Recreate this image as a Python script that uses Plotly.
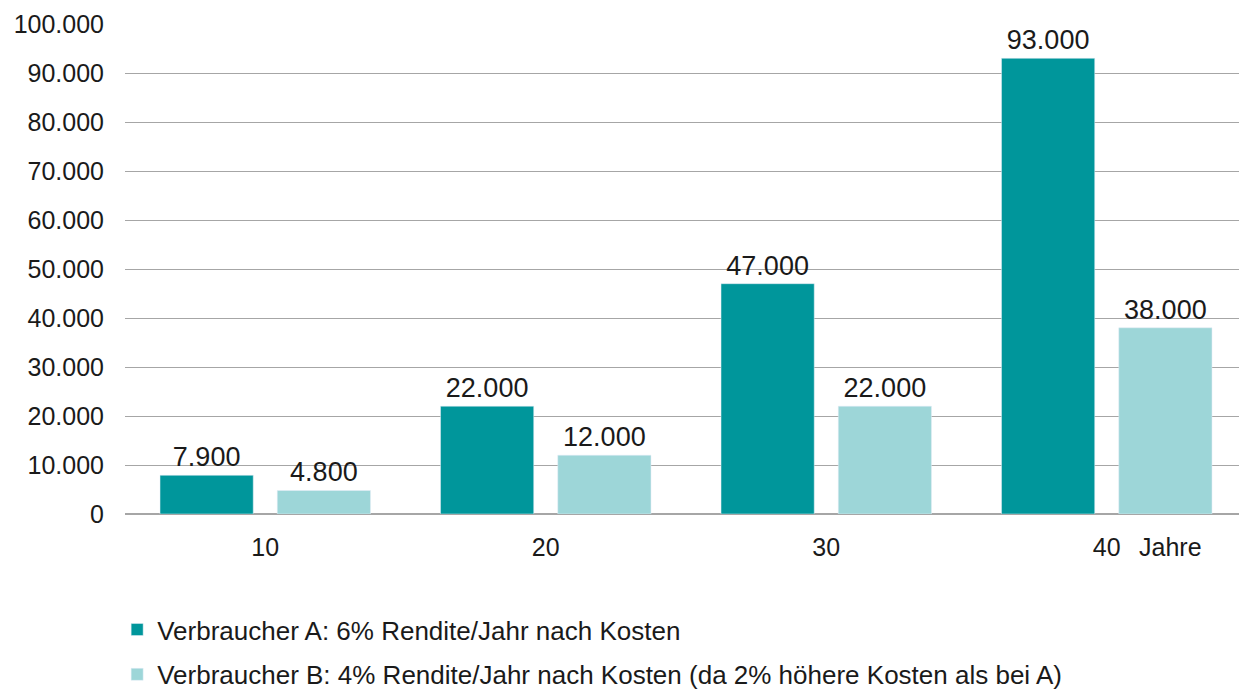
import plotly.graph_objects as go

categories = ["10", "20", "30", "40"]
series_a = [7900, 22000, 47000, 93000]
series_b = [4800, 12000, 22000, 38000]
name_a = "Verbraucher A: 6% Rendite/Jahr nach Kosten"
name_b = "Verbraucher B: 4% Rendite/Jahr nach Kosten (da 2% höhere Kosten als bei A)"
y_ticks = list(range(0, 100001, 10000))
unit_label = "Jahre"

color_a = "#00969b"
color_b = "#9dd6d8"
font_family = "Liberation Sans, Arial, sans-serif"

fig = go.Figure()
for vals, name, col, grp in [(series_a, name_a, color_a, "a"), (series_b, name_b, color_b, "b")]:
    fig.add_trace(go.Bar(
        x=categories, y=vals, name=name, marker_color=col,
        legendgroup=grp, texttemplate="%{y:,}", textposition="outside",
        constraintext="none",
        textfont=dict(size=27, color="#1a1a1a"), cliponaxis=False,
    ))

fig.add_annotation(
    x=len(categories) - 1, y=0, xref="x", yref="y", text=unit_label,
    showarrow=False, xshift=64, yshift=-33, yanchor="middle",
    font=dict(size=25, color="#1a1a1a"),
)

fig.update_layout(
    width=1239, height=685,
    margin=dict(l=117, r=0, t=16, b=179, autoexpand=False),
    paper_bgcolor="white", plot_bgcolor="white",
    separators=",.",
    barmode="group", bargap=0.164, bargroupgap=0.205,
    font=dict(family=font_family, size=25, color="#1a1a1a"),
    showlegend=True,
    legend=dict(
        x=-0.007, y=-0.188, xanchor="left", yanchor="top",
        orientation="v", font=dict(size=26, color="#1a1a1a"),
        tracegroupgap=8, itemwidth=30, bgcolor="rgba(0,0,0,0)",
    ),
)
fig.update_xaxes(
    type="category", range=[-0.5, len(categories) - 0.5],
    showgrid=False, showline=False, ticks="",
    ticklabelstandoff=16, tickfont=dict(size=25), automargin=False,
    tickangle=0,
)
fig.update_yaxes(
    range=[0, 100000], tickvals=y_ticks, tickformat=",",
    showgrid=True, gridcolor="#a6a6a6", gridwidth=1.3,
    zeroline=True, zerolinecolor="#a6a6a6", zerolinewidth=1.5,
    showline=False, ticks="", ticklabelstandoff=20,
    tickfont=dict(size=25), automargin=False,
)

fig.write_html("out.html")
